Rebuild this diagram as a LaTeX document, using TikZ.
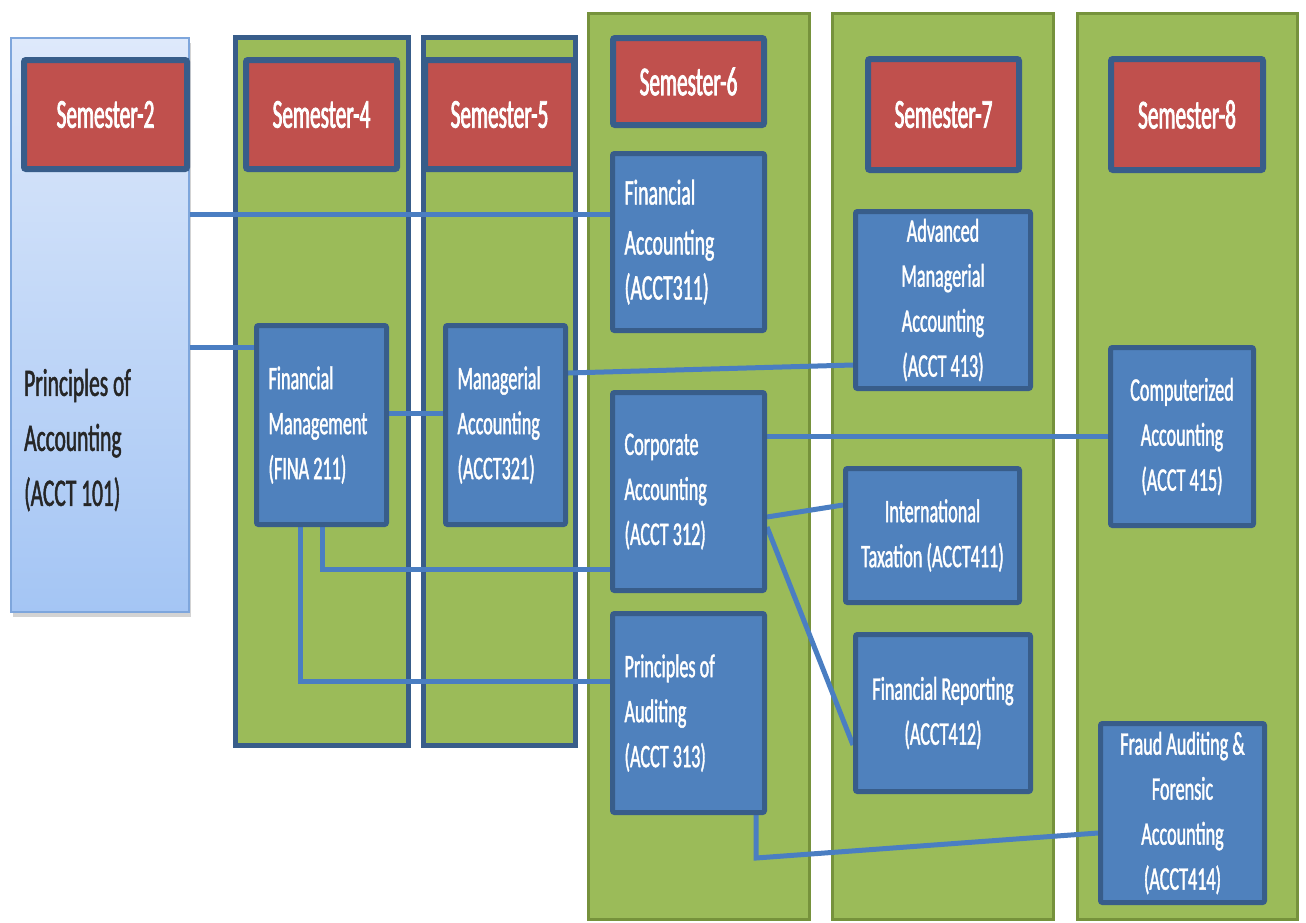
\documentclass[tikz,border=0pt]{standalone}
\usepackage{fontspec}
\setmainfont{Carlito}[FakeStretch=0.55,FakeBold=1.2]
\newfontfamily\headfont{Carlito}[FakeStretch=0.52,FakeBold=1.8]
\usetikzlibrary{shadows}
\definecolor{cgreen}{HTML}{9BBB59}
\definecolor{cgreenb}{HTML}{76923C}
\definecolor{cred}{HTML}{C0504D}
\definecolor{cblue}{HTML}{4F81BD}
\definecolor{cblueb}{HTML}{385D8A}
\definecolor{cline}{HTML}{4A7EC2}
\definecolor{ltop}{HTML}{DEE9FB}
\definecolor{lbot}{HTML}{A4C5F4}
\definecolor{lbord}{HTML}{7EA6DC}
\definecolor{dtext}{HTML}{262626}
\pgfdeclarelayer{bg}
\pgfdeclarelayer{mid}
\pgfsetlayers{bg,mid,main}
\tikzset{
  gcol/.style={draw=cgreenb, fill=cgreen, line width=3pt, inner sep=0pt},
  bcol/.style={draw=cblueb, fill=cgreen, line width=5pt, inner sep=0pt},
  semhead/.style={draw=cblueb, fill=cred, line width=6pt, rounded corners=2pt, text=white,
    font=\headfont\fontsize{41}{48}\selectfont, inner sep=0pt},
  course/.style={draw=cblueb, fill=cblue, line width=5pt, rounded corners=2pt, text=white,
    font=\fontsize{33}{45}\selectfont, inner sep=0pt},
  lcourse/.style={course, align=flush left, inner xsep=12pt},
  ccourse/.style={course, align=center},
  conn/.style={draw=cline, line width=5pt},
}
\begin{document}
\begin{tikzpicture}[x=1pt,y=-1pt]
\useasboundingbox (0,0) rectangle (1306,922);
\begin{pgfonlayer}{bg}
% columns
\node[draw=lbord, line width=1.5pt, top color=ltop, bottom color=lbot, minimum width=178pt, minimum height=574pt,
  drop shadow={shadow xshift=2pt, shadow yshift=-5pt, opacity=0.35}] (sem2col) at (100,325) {};
\node[bcol, minimum width=173pt, minimum height=708pt] (sem4col) at (322,391.5) {};
\node[bcol, minimum width=152pt, minimum height=708pt] (sem5col) at (499.5,391.5) {};
\node[gcol, minimum width=221pt, minimum height=906pt] (sem6col) at (699,466.5) {};
\node[gcol, minimum width=221pt, minimum height=906pt] (sem7col) at (943,466.5) {};
\node[gcol, minimum width=220pt, minimum height=906pt] (sem8col) at (1187.5,466.5) {};
\end{pgfonlayer}
% principles of accounting text
\node[anchor=west, align=flush left, text=dtext, font=\fontsize{39}{55}\selectfont, inner sep=0pt] (pacc) at (24,440)
  {Principles of\\Accounting\\(ACCT 101)};
% headers
\node[semhead, minimum width=163pt, minimum height=109pt] (h2) at (105.5,114.5) {Semester-2};
\node[semhead, minimum width=151pt, minimum height=109pt] (h4) at (321.5,114.5) {Semester-4};
\node[semhead, minimum width=149pt, minimum height=109pt] (h5) at (499.5,114.5) {Semester-5};
\node[semhead, minimum width=151pt, minimum height=87pt] (h6) at (688.5,81.5) {Semester-6};
\node[semhead, minimum width=151pt, minimum height=111pt] (h7) at (943.5,114.5) {Semester-7};
\node[semhead, minimum width=152pt, minimum height=111pt] (h8) at (1187,114.5) {Semester-8};
% course boxes
\node[lcourse, text width=128pt, minimum height=177pt] (fa) at (688.5,242) {\fontsize{36}{50}\selectfont Financial\\Accounting\\(ACCT311)};
\node[ccourse, minimum width=175pt, minimum height=177pt] (am) at (943,300) {Advanced\\Managerial\\Accounting\\(ACCT 413)};
\node[lcourse, text width=106pt, minimum height=199pt] (fm) at (321.5,425) {Financial\\Management\\(FINA 211)};
\node[lcourse, text width=96pt, minimum height=199pt] (ma) at (505.5,425) {Managerial\\Accounting\\(ACCT321)};
\node[lcourse, text width=128pt, minimum height=198pt] (ca) at (688.5,491.5) {Corporate\\Accounting\\(ACCT 312)};
\node[ccourse, minimum width=143pt, minimum height=178pt] (cz) at (1182,436.5) {Computerized\\Accounting\\(ACCT 415)};
\node[ccourse, minimum width=174pt, minimum height=134pt] (it) at (932.5,535.5) {International\\Taxation (ACCT411)};
\node[lcourse, text width=128pt, minimum height=199pt] (pa) at (688.5,713) {Principles of\\Auditing\\(ACCT 313)};
\node[ccourse, minimum width=175pt, minimum height=157pt] (fr) at (943,713) {Financial Reporting\\(ACCT412)};
\node[ccourse, minimum width=164pt, minimum height=179pt] (fd) at (1182.5,813) {Fraud Auditing \&\\Forensic\\Accounting\\(ACCT414)};
% connectors (behind course boxes)
\begin{pgfonlayer}{mid}
\draw[conn] (sem2col.east |- 0,214) -- (fa.west |- 0,214);
\draw[conn] (sem2col.east |- 0,347) -- (fm.west |- 0,347);
\draw[conn] (fm.east |- 0,413) -- (ma.west |- 0,413);
\draw[conn] (ma.east |- 0,373) -- (am.west |- 0,365);
\draw[conn] (fm.south -| 322,0) |- (ca.west |- 0,569);
\draw[conn] (fm.south -| 300,0) |- (pa.west |- 0,681);
\draw[conn] (ca.east |- 0,436) -- (cz.west |- 0,436);
\draw[conn] (ca.east |- 0,517) -- (it.west |- 0,505);
\draw[conn] (ca.east |- 0,527) -- (fr.west |- 0,745);
\draw[conn] (pa.south -| 756,0) -- (756,858) -- (fd.west |- 0,833);
\end{pgfonlayer}
\end{tikzpicture}
\end{document}
